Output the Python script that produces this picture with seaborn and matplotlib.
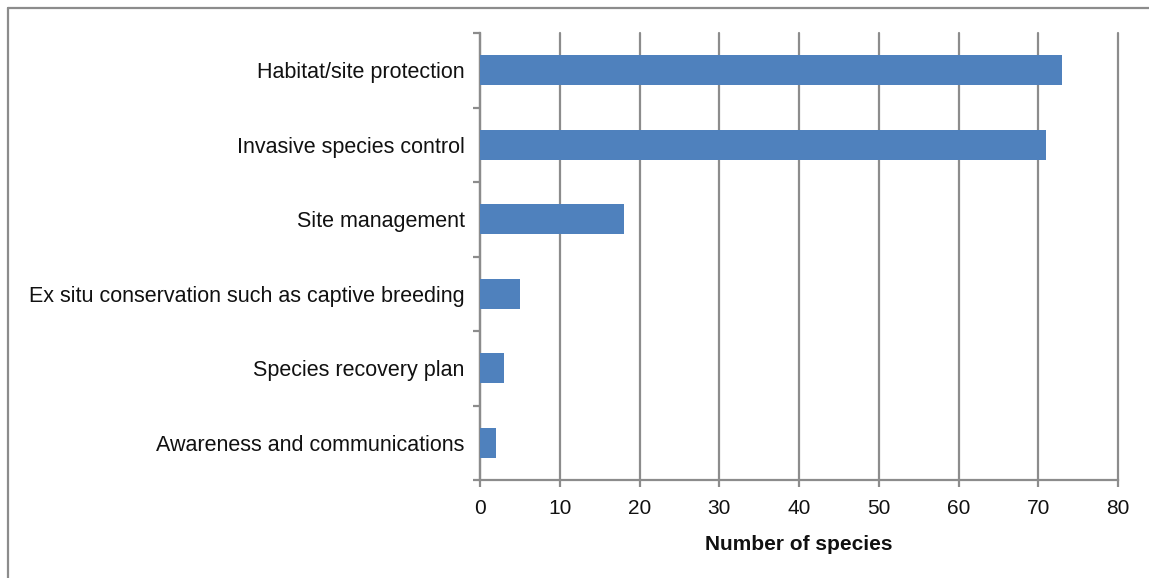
import matplotlib
matplotlib.use("Agg")
import matplotlib.pyplot as plt
import seaborn as sns
import pandas as pd
import numpy as np
from matplotlib.lines import Line2D

categories = [
    "Habitat/site protection",
    "Invasive species control",
    "Site management",
    "Ex situ conservation such as captive breeding",
    "Species recovery plan",
    "Awareness and communications",
]
values = [73, 71, 18, 5, 3, 2]
x_ticks = [0, 10, 20, 30, 40, 50, 60, 70, 80]

sns.set_theme(style="white")
plt.rcParams['font.family'] = ['Liberation Sans', 'DejaVu Sans']

df = pd.DataFrame({"category": categories, "value": values})

fig = plt.figure(figsize=(11.49, 5.78), dpi=100)
ax = fig.add_axes([480 / 1149, 1 - 480 / 578, (1118 - 480) / 1149, (480 - 33) / 578])

sns.barplot(data=df, y="category", x="value", orient="h", color="#4F81BD",
            saturation=1, width=0.4, ax=ax, edgecolor="none", zorder=3)

grey = "#8c8c8c"
ax.set_xlim(0, 80)
ax.set_ylim(len(categories) - 0.5, -0.5)
ax.set_xticks(x_ticks)
ax.set_xticklabels([str(t) for t in x_ticks], fontsize=15, color="#111111")
ax.xaxis.grid(True, color=grey, linewidth=1.6, zorder=0)
ax.yaxis.grid(False)
ax.set_axisbelow(True)
for gl in ax.get_xgridlines():
    gl.set_clip_on(False)

for s in ["top", "right"]:
    ax.spines[s].set_visible(False)
for s in ["left", "bottom"]:
    ax.spines[s].set_color(grey)
    ax.spines[s].set_linewidth(1.6)

ax.tick_params(axis="x", which="major", direction="out", length=5, width=1.6, color=grey, pad=9, bottom=True)
ax.tick_params(axis="y", which="major", length=0, pad=11, labelsize=15.5, labelcolor="#111111")
ax.set_yticks(np.arange(len(categories) + 1) - 0.5, minor=True)
ax.tick_params(axis="y", which="minor", direction="out", length=5, width=1.6, color=grey, left=True)

ax.set_ylabel("")
ax.set_xlabel("Number of species", fontsize=15, fontweight="bold", labelpad=12, color="#111111")

# outer chart frame (top and left)
fig.add_artist(Line2D([8 / 1149, 1.0], [1 - 7.5 / 578, 1 - 7.5 / 578], transform=fig.transFigure, color=grey, linewidth=1.6))
fig.add_artist(Line2D([8 / 1149, 8 / 1149], [0, 1 - 7.5 / 578], transform=fig.transFigure, color=grey, linewidth=1.6))

fig.savefig("out.png", dpi=100)
